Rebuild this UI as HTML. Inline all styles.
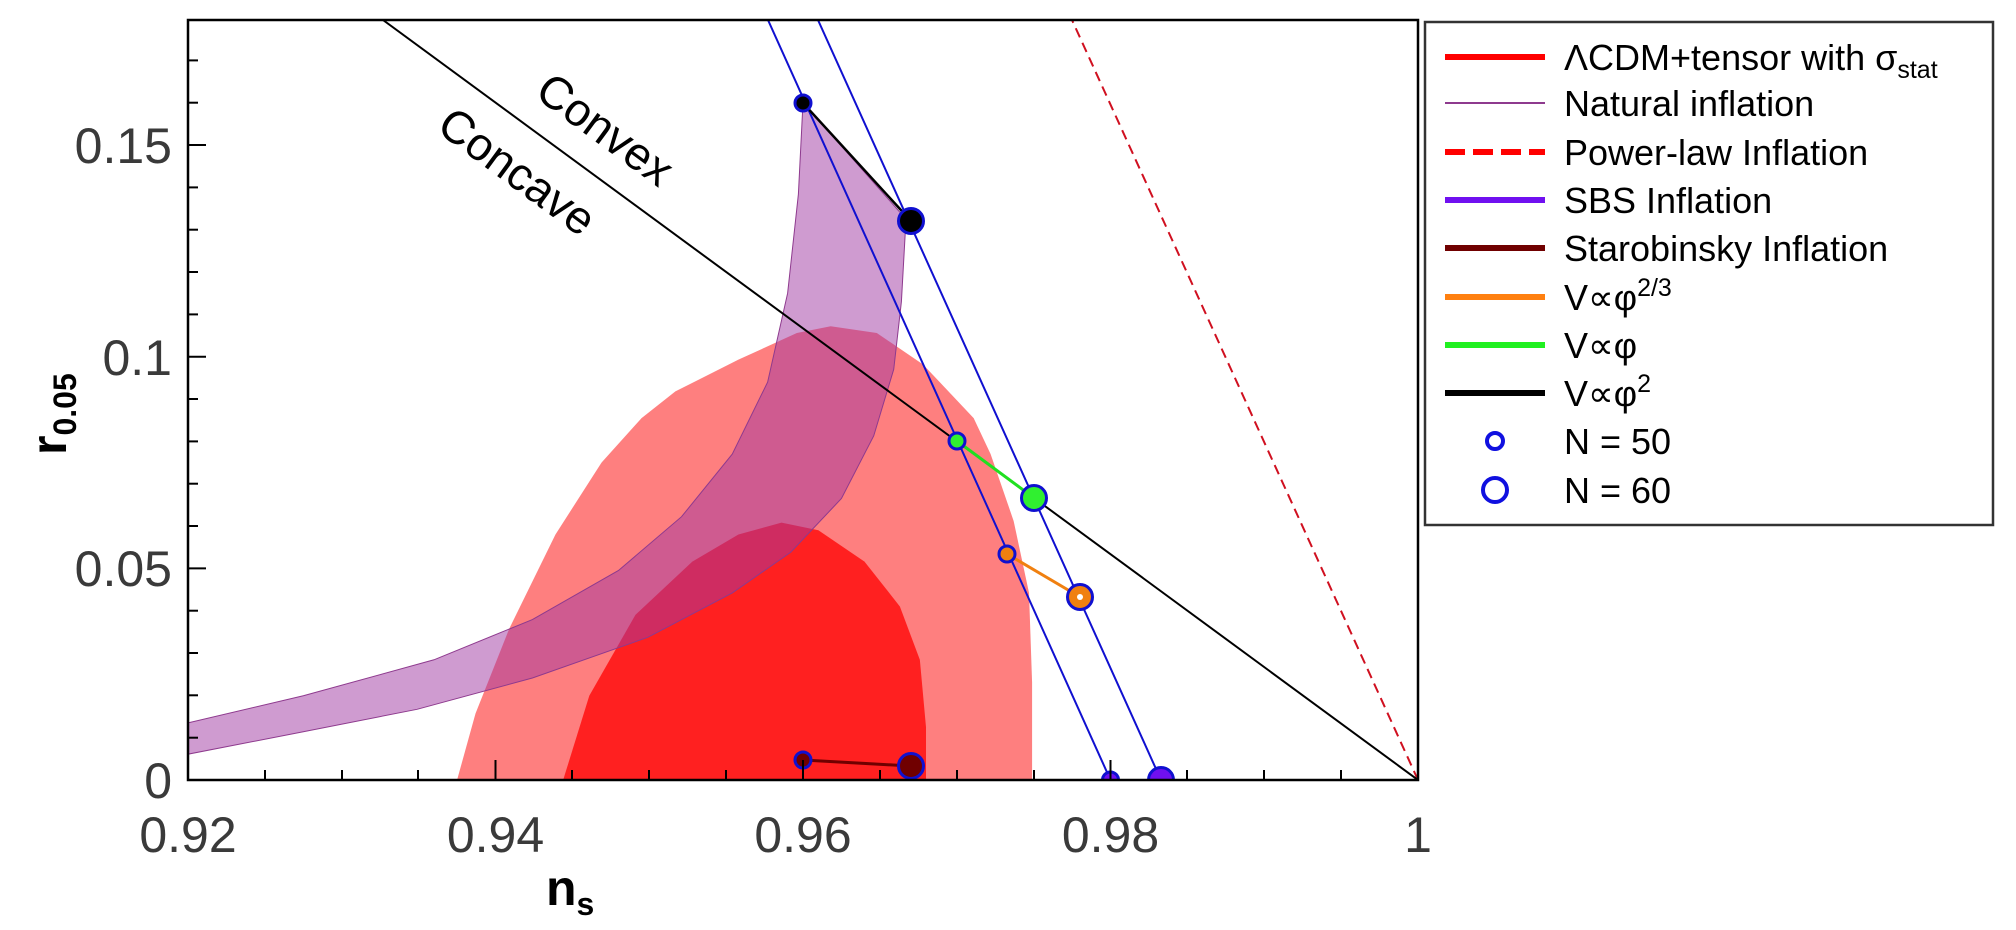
<!DOCTYPE html>
<html><head><meta charset="utf-8"><style>
html,body{margin:0;padding:0;background:#fff;}
svg{display:block;}
text{font-family:"Liberation Sans","DejaVu Sans",sans-serif;}
</style></head><body>
<svg width="2016" height="930" viewBox="0 0 2016 930" xmlns="http://www.w3.org/2000/svg">
<defs><clipPath id="pc"><rect x="188" y="20" width="1230" height="760"/></clipPath></defs>
<g clip-path="url(#pc)">
<g transform="translate(188,780) scale(15375,-4233) translate(-0.92,0)">
<path fill="#fe7f7f" d="M0.9375,0 L0.9387,0.0157 L0.9409,0.0358 L0.9439,0.058 L0.9469,0.075 L0.9495,0.0855 L0.9517,0.0918 L0.9558,0.0993 L0.9596,0.1056 L0.9618,0.1072 L0.9648,0.1056 L0.9678,0.0982 L0.9711,0.0855 L0.9722,0.077 L0.9737,0.0612 L0.9747,0.0442 L0.9749,0.023 L0.9749,0 Z"/>
<path fill="#ff2020" d="M0.9444,0 L0.9461,0.0199 L0.9491,0.039 L0.9528,0.0516 L0.9558,0.058 L0.9586,0.0608 L0.961,0.059 L0.964,0.0516 L0.9663,0.041 L0.9676,0.0284 L0.968,0.0125 L0.968,0 Z"/>
<path fill="rgb(160,55,162)" fill-opacity="0.5" stroke="#8e3a8e" stroke-width="1" vector-effect="non-scaling-stroke" d="M0.92,0.0135 L0.9275,0.0199 L0.936,0.0284 L0.9424,0.0379 L0.948,0.0495 L0.9521,0.0622 L0.9554,0.077 L0.9577,0.094 L0.959,0.115 L0.9597,0.1384 L0.960,0.16 L0.9667,0.1325 L0.9664,0.113 L0.9659,0.097 L0.9646,0.0813 L0.9625,0.0665 L0.9592,0.0538 L0.9554,0.0442 L0.9499,0.0337 L0.9424,0.0241 L0.9349,0.0167 L0.9275,0.0114 L0.92,0.0061 Z"/>
</g>
<line x1="1418" y1="780" x2="1072" y2="20" stroke="#d01020" stroke-width="2" stroke-dasharray="10,6"/>
<line x1="1418" y1="780" x2="383" y2="20" stroke="#000" stroke-width="2"/>
<line x1="111" y1="780" x2="1110.5" y2="780" stroke="#1010d0" stroke-width="2"/>
<line x1="1110.5" y1="780" x2="768" y2="20" stroke="#1010d0" stroke-width="2"/>
<line x1="1161" y1="780" x2="818" y2="20" stroke="#1010d0" stroke-width="2"/>
<line x1="803" y1="103" x2="911" y2="221" stroke="#000" stroke-width="2.5"/>
<line x1="957" y1="441" x2="1034" y2="498" stroke="#20e020" stroke-width="3"/>
<line x1="1007" y1="554" x2="1080" y2="597" stroke="#f08010" stroke-width="3"/>
<line x1="803" y1="760" x2="911" y2="766" stroke="#700000" stroke-width="3"/>
<g stroke="#1010d0" stroke-width="3">
<circle cx="803" cy="103" r="8" fill="#000"/>
<circle cx="911" cy="221" r="12.5" fill="#000"/>
<circle cx="957" cy="441" r="8" fill="#30f030"/>
<circle cx="1034" cy="498" r="12.5" fill="#30f030"/>
<circle cx="1007" cy="554" r="8" fill="#f08010"/>
<circle cx="1080" cy="597" r="12.5" fill="#f08010"/>
<circle cx="803" cy="760" r="8" fill="#700000"/>
<circle cx="911" cy="766" r="12.5" fill="#700000"/>
<circle cx="1110.5" cy="780" r="8" fill="#7010f0"/>
<circle cx="1161" cy="780" r="12.5" fill="#7010f0"/>
</g>
<circle cx="1080" cy="597" r="3" fill="#fff"/>
</g>
<rect x="188" y="20" width="1230" height="760" fill="none" stroke="#000" stroke-width="2.5"/>
<g stroke="#000" stroke-width="2">
<line x1="188" y1="780" x2="206" y2="780"/><line x1="188" y1="737.7" x2="198" y2="737.7"/><line x1="188" y1="695.3" x2="198" y2="695.3"/><line x1="188" y1="653" x2="198" y2="653"/><line x1="188" y1="610.7" x2="198" y2="610.7"/>
<line x1="188" y1="568.4" x2="206" y2="568.4"/><line x1="188" y1="526" x2="198" y2="526"/><line x1="188" y1="483.7" x2="198" y2="483.7"/><line x1="188" y1="441.4" x2="198" y2="441.4"/><line x1="188" y1="399" x2="198" y2="399"/>
<line x1="188" y1="356.7" x2="206" y2="356.7"/><line x1="188" y1="314.4" x2="198" y2="314.4"/><line x1="188" y1="272" x2="198" y2="272"/><line x1="188" y1="229.7" x2="198" y2="229.7"/><line x1="188" y1="187.4" x2="198" y2="187.4"/>
<line x1="188" y1="145" x2="206" y2="145"/><line x1="188" y1="102.7" x2="198" y2="102.7"/><line x1="188" y1="60.4" x2="198" y2="60.4"/>
</g>
<g stroke="#000" stroke-width="2">
<line x1="265" y1="780" x2="265" y2="770"/><line x1="342" y1="780" x2="342" y2="770"/><line x1="418" y1="780" x2="418" y2="770"/>
<line x1="495.5" y1="780" x2="495.5" y2="760"/><line x1="572" y1="780" x2="572" y2="770"/><line x1="649" y1="780" x2="649" y2="770"/><line x1="726" y1="780" x2="726" y2="770"/>
<line x1="803" y1="780" x2="803" y2="760"/><line x1="880" y1="780" x2="880" y2="770"/><line x1="957" y1="780" x2="957" y2="770"/><line x1="1034" y1="780" x2="1034" y2="770"/>
<line x1="1110.5" y1="780" x2="1110.5" y2="760"/><line x1="1187" y1="780" x2="1187" y2="770"/><line x1="1264" y1="780" x2="1264" y2="770"/><line x1="1341" y1="780" x2="1341" y2="770"/>
</g>
<g fill="#3a3a3a" font-size="50">
<g text-anchor="end">
<text x="172" y="798">0</text><text x="172" y="586">0.05</text><text x="172" y="375">0.1</text><text x="172" y="163">0.15</text>
</g>
<g text-anchor="middle">
<text x="188" y="852">0.92</text><text x="495.5" y="852">0.94</text><text x="803" y="852">0.96</text><text x="1110.5" y="852">0.98</text><text x="1418" y="852">1</text>
</g>
</g>
<text x="546" y="905" font-size="50" font-weight="bold" fill="#000">n<tspan font-size="32" dy="10">s</tspan></text>
<text transform="translate(66,455) rotate(-90)" font-size="50" font-weight="bold" fill="#000">r<tspan font-size="32" dy="10">0.05</tspan></text>
<text transform="translate(596,142) rotate(36.3)" text-anchor="middle" font-size="46" fill="#000">Convex</text>
<text transform="translate(508,184) rotate(36.3)" text-anchor="middle" font-size="46" fill="#000">Concave</text>
<rect x="1425" y="22" width="568" height="503" fill="#fff" stroke="#333" stroke-width="2.5"/>
<g stroke-width="6">
<line x1="1445" y1="57" x2="1545" y2="57" stroke="#ff0000"/>
<line x1="1445" y1="103" x2="1545" y2="103" stroke="#8e3a8e" stroke-width="2"/>
<line x1="1445" y1="152" x2="1545" y2="152" stroke="#ff0000" stroke-dasharray="20,8"/>
<line x1="1445" y1="200" x2="1545" y2="200" stroke="#7010f0"/>
<line x1="1445" y1="248" x2="1545" y2="248" stroke="#700000"/>
<line x1="1445" y1="297" x2="1545" y2="297" stroke="#ff8010"/>
<line x1="1445" y1="345" x2="1545" y2="345" stroke="#20f020"/>
<line x1="1445" y1="393" x2="1545" y2="393" stroke="#000"/>
</g>
<circle cx="1495" cy="441" r="8" fill="#fff" stroke="#1010e0" stroke-width="4"/>
<circle cx="1495" cy="490" r="12" fill="#fff" stroke="#1010e0" stroke-width="4"/>
<g font-size="36" fill="#000">
<text x="1564" y="70">ΛCDM+tensor with σ<tspan font-size="25" dy="8">stat</tspan></text>
<text x="1564" y="116">Natural inflation</text>
<text x="1564" y="165">Power-law Inflation</text>
<text x="1564" y="213">SBS Inflation</text>
<text x="1564" y="261">Starobinsky Inflation</text>
<text x="1564" y="310">V∝φ<tspan font-size="25" dy="-14">2/3</tspan></text>
<text x="1564" y="358">V∝φ</text>
<text x="1564" y="406">V∝φ<tspan font-size="25" dy="-14">2</tspan></text>
<text x="1564" y="454">N = 50</text>
<text x="1564" y="503">N = 60</text>
</g>
</svg>
</body></html>
